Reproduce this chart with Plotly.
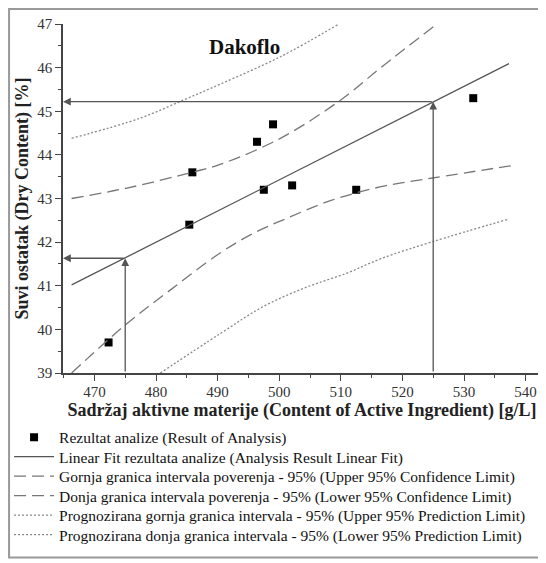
import plotly.graph_objects as go

# ---- data ----
x_obs = [472.3, 485.4, 485.9, 496.4, 497.5, 499.0, 502.1, 512.5, 531.5]
y_obs = [39.7, 42.4, 43.6, 44.3, 43.2, 44.7, 43.3, 43.2, 45.3]

fit_x = [466.3, 537.3]
fit_y = [41.02, 46.09]

upper_conf_x = [466.3, 475.3, 485.8, 490.4, 500.2, 510.0, 516.5, 525.4]
upper_conf_y = [43.00, 43.24, 43.60, 43.78, 44.38, 45.26, 46.00, 46.98]

lower_conf_x = [466.3, 475.0, 482.3, 490.4, 495.9, 501.3, 508.3, 516.5, 524.9, 537.6]
lower_conf_y = [39.00, 40.10, 40.90, 41.75, 42.21, 42.55, 42.95, 43.27, 43.47, 43.75]

upper_pred_x = [466.3, 477.4, 484.5, 490.4, 500.2, 509.7]
upper_pred_y = [44.38, 44.84, 45.26, 45.62, 46.25, 47.00]

lower_pred_x = [480.7, 490.4, 497.5, 504.5, 511.0, 516.5, 524.9, 537.3]
lower_pred_y = [39.00, 39.90, 40.53, 40.97, 41.29, 41.62, 42.01, 42.53]

read_x = [475.0, 525.0]
read_y = [41.63, 45.22]

x_range = [464.9, 542.5]
y_range = [39, 47]

names = [
    "Rezultat analize (Result of Analysis)",
    "Linear Fit rezultata analize (Analysis Result Linear Fit)",
    "Gornja granica intervala poverenja - 95% (Upper 95% Confidence Limit)",
    "Donja granica intervala poverenja - 95% (Lower 95% Confidence Limit)",
    "Prognozirana gornja granica intervala - 95% (Upper 95% Prediction Limit)",
    "Prognozirana donja granica intervala - 95% (Lower 95% Prediction Limit)",
]

FONT = "Liberation Serif, Times New Roman, serif"

# page geometry: the html body has an 8px margin, so the figure is 8px smaller
OFF = 8
W, H = 546 - OFF, 563 - OFF
# plot area in page pixels: left 63, right 541.5, top 24, bottom 373.3
ML, MT = 63 - OFF, 24 - OFF
MR = W - (541.5 - OFF)
MB = H - (373.3 - OFF)
PW, PH = W - ML - MR, H - MT - MB


def px_to_paper_x(px):
    return (px - OFF - ML) / PW


def px_to_paper_y(py):
    return (H - MB - (py - OFF)) / PH


fig = go.Figure()
legend_ids = ["legend", "legend2", "legend3", "legend4", "legend5", "legend6"]
fig.add_trace(go.Scatter(x=x_obs, y=y_obs, mode="markers", name=names[0], legend=legend_ids[0],
                         marker=dict(symbol="square", size=8, color="black")))
fig.add_trace(go.Scatter(x=fit_x, y=fit_y, mode="lines", name=names[1], legend=legend_ids[1],
                         line=dict(color="#555", width=1.3)))
fig.add_trace(go.Scatter(x=upper_conf_x, y=upper_conf_y, mode="lines", name=names[2], legend=legend_ids[2],
                         line=dict(color="#777", width=1.3, dash="12px,6px", shape="spline")))
fig.add_trace(go.Scatter(x=lower_conf_x, y=lower_conf_y, mode="lines", name=names[3], legend=legend_ids[3],
                         line=dict(color="#777", width=1.3, dash="12px,6px", shape="spline")))
fig.add_trace(go.Scatter(x=upper_pred_x, y=upper_pred_y, mode="lines", name=names[4], legend=legend_ids[4],
                         line=dict(color="#888", width=1.3, dash="2px,2px", shape="spline")))
fig.add_trace(go.Scatter(x=lower_pred_x, y=lower_pred_y, mode="lines", name=names[5], legend=legend_ids[5],
                         line=dict(color="#888", width=1.3, dash="2px,2px", shape="spline")))

# reading arrows (vertical up to the fit, horizontal to the y axis)
for rx, ry in zip(read_x, read_y):
    fig.add_annotation(x=rx, y=ry, ax=rx, ay=y_range[0], xref="x", yref="y",
                       axref="x", ayref="y", text="", showarrow=True,
                       arrowhead=2, arrowsize=1.2, arrowwidth=1.3, arrowcolor="#555", standoff=0)
    fig.add_annotation(x=x_range[0], y=ry, ax=rx, ay=ry, xref="x", yref="y",
                       axref="x", ayref="y", text="", showarrow=True,
                       arrowhead=2, arrowsize=1.2, arrowwidth=1.3, arrowcolor="#555", standoff=0)

fig.add_annotation(text="<b>Dakoflo</b>", x=px_to_paper_x(245), y=px_to_paper_y(47),
                   xanchor="center", yanchor="middle",
                   xref="paper", yref="paper", showarrow=False,
                   font=dict(size=21, color="#111", family=FONT))

# outer frame
fig.add_shape(type="rect", xref="paper", yref="paper",
              x0=px_to_paper_x(9), x1=px_to_paper_x(544), y0=px_to_paper_y(558), y1=px_to_paper_y(9),
              line=dict(color="#999", width=2), fillcolor="rgba(0,0,0,0)", layer="below")

axis_common = dict(showline=True, linecolor="#444", linewidth=1.5, ticks="outside",
                   ticklen=6, tickwidth=1.3, tickcolor="#444", showgrid=False, zeroline=False,
                   automargin=False,
                   tickfont=dict(size=15, color="#333", family=FONT))

fig.update_xaxes(range=x_range, tick0=470, dtick=10, ticklabelstandoff=-2,
                 minor=dict(ticks="outside", dtick=5, ticklen=3, tickcolor="#444"),
                 title=dict(text="<b>Sadržaj aktivne materije (Content of Active Ingredient) [g/L]</b>",
                            font=dict(size=18, color="#222", family=FONT), standoff=0),
                 **axis_common)
fig.update_yaxes(range=y_range, dtick=1,
                 minor=dict(ticks="outside", dtick=0.5, ticklen=3, tickcolor="#444"),
                 title=dict(text="<b>Suvi ostatak (Dry Content) [%]</b>",
                            font=dict(size=18, color="#222", family=FONT), standoff=4),
                 **axis_common)

row_y = [438, 457.5, 477, 496.5, 516, 535.5]
legend_layout = {}
for lid, ry in zip(legend_ids, row_y):
    legend_layout[lid] = dict(x=px_to_paper_x(9), xanchor="left", y=px_to_paper_y(ry), yanchor="middle",
                              font=dict(size=15.5, color="#111", family=FONT),
                              bgcolor="rgba(0,0,0,0)", itemwidth=40)

fig.update_layout(
    width=W, height=H,
    margin=dict(l=ML, r=MR, t=MT, b=MB, autoexpand=False),
    paper_bgcolor="white", plot_bgcolor="white",
    font=dict(family=FONT, color="#222"),
    showlegend=True,
    **legend_layout,
)

fig.write_html("out.html")
